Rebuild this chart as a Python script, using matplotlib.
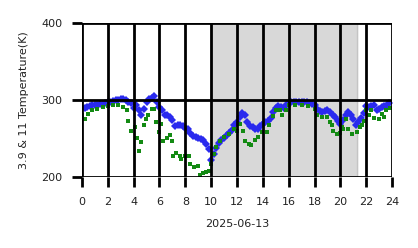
import numpy as np
import matplotlib
matplotlib.use("Agg")
import matplotlib.pyplot as plt

# 3.9 um channel, every 0.2 h
blue_hours = np.arange(0, 24, 0.2)
blue_temp = [
    290, 290, 291, 292, 293, 294, 294, 295, 295, 296,
    297, 298, 299, 300, 300, 301, 301, 300, 298, 296,
    290, 293, 287, 281, 289, 298, 302, 303, 305, 297,
    291, 287, 281, 280, 278, 274, 266, 268, 267, 266,
    264, 263, 257, 253, 252, 251, 250, 248, 243, 236,
    222, 230, 238, 244, 248, 251, 254, 257, 261, 268,
    272, 278, 283, 281, 271, 266, 265, 262, 263, 266,
    269, 271, 273, 277, 284, 290, 292, 291, 290, 293,
    296, 297, 298, 298, 298, 298, 298, 297, 296, 295,
    293, 289, 286, 284, 286, 287, 284, 281, 278, 273,
    269, 274, 280, 284, 281, 276, 268, 272, 277, 283,
    292, 291, 292, 293, 287, 289, 291, 292, 294, 296,
]

# 11 um channel
green_hours = [
    0.0, 0.2, 0.5, 0.8, 1.2, 1.6, 2.0, 2.4, 2.8, 3.2, 3.5, 3.6, 3.77, 4.1,
    4.3, 4.45, 4.6, 4.8, 4.95, 5.15, 5.4, 5.55, 5.7, 5.95, 6.1, 6.3, 6.55,
    6.8, 6.95, 7.07, 7.3, 7.6, 7.7, 7.97, 8.26, 8.4, 8.7, 8.95, 9.14, 9.4,
    9.6, 9.8, 9.96, 10.2, 10.4, 10.7, 11.0, 11.4, 11.8, 12.0, 12.2, 12.5,
    12.6, 12.9, 13.1, 13.4, 13.6, 13.9, 14.3, 14.45, 14.8, 15.0, 15.3, 15.5,
    15.8, 16.0, 16.5, 17.0, 17.5, 18.0, 18.2, 18.6, 19.0, 19.2, 19.35, 19.46,
    19.7, 19.97, 20.1, 20.2, 20.45, 20.6, 20.9, 21.26, 21.5, 21.65, 21.8,
    22.0, 22.2, 22.4, 22.6, 22.95, 23.2, 23.35, 23.5, 23.85,
]
green_temp = [
    280, 276, 282, 287, 289, 291, 292, 294, 293, 291, 287, 273, 260, 265,
    251, 234, 245, 267, 276, 280, 289, 289, 271, 258, 269, 247, 251,
    254, 247, 228, 231, 227, 223, 227, 228, 217, 213, 215, 203, 205,
    206, 208, 217, 230, 239, 247, 252, 256, 263, 260, 269, 260,
    247, 243, 242, 248, 252, 258, 258, 267, 279, 287, 287, 280,
    287, 293, 293, 293, 292, 289, 280, 278, 278, 271, 267, 260,
    256, 257, 265, 263, 276, 263, 256, 258, 265, 267, 273,
    287, 280, 287, 277, 276, 282, 278, 287, 290,
]

ticks_x = list(range(0, 25, 2))
ticks_y = [200, 300, 400]

fig = plt.figure(figsize=(4.18, 2.48), dpi=100)
ax = fig.add_axes([0.196, 0.286, 0.742, 0.621])

ax.axvspan(10, 21.25, color="#d8d8d8", zorder=0.5)
ax.axvline(21.25, color="#c4c4c4", lw=1, zorder=0.6)

ax.plot(blue_hours, blue_temp, "D", color="#2a2aee", markersize=4, mew=0, zorder=2)
ax.plot(green_hours, green_temp, "s", color="#138a13", markersize=3, mew=0, zorder=2.1)

ax.set_xlim(0, 24)
ax.set_ylim(200, 400)
ax.set_xticks(ticks_x)
ax.set_yticks(ticks_y)
ax.grid(True, color="black", lw=2)
ax.set_axisbelow(False)
for s in ax.spines.values():
    s.set_visible(False)
ax.tick_params(length=7, width=2, labelsize=8, color="black", labelcolor="#222222")
ax.tick_params(axis="x", pad=7)
ax.tick_params(axis="y", pad=7)
ax.set_xlabel("2025-06-13", fontsize=8, labelpad=9, color="#222222")
ax.set_ylabel("3.9 & 11 Temperature(K)", fontsize=8, labelpad=9, color="#222222")

fig.savefig("out.png", dpi=100)
